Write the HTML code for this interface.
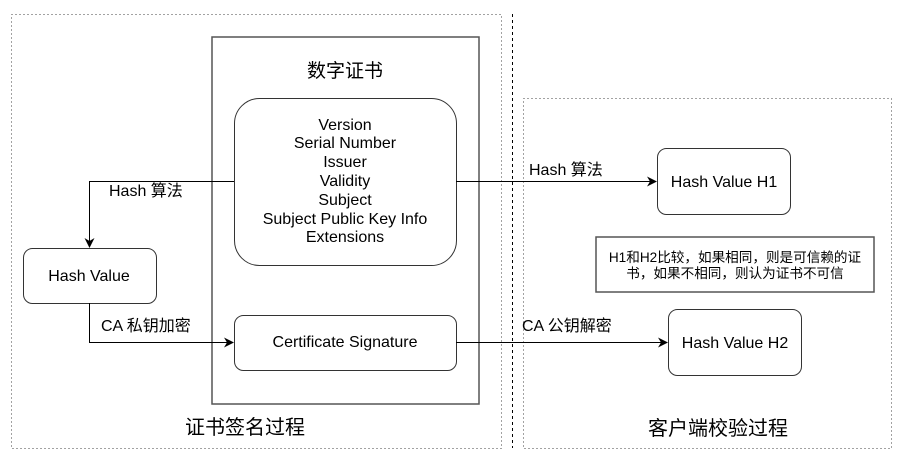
<!DOCTYPE html>
<html><head><meta charset="utf-8"><style>
body{margin:0;background:#fff}
svg text{font-family:"Liberation Sans","Noto Sans CJK SC",sans-serif;fill:#000}
</style></head><body>
<svg width="908" height="464" xmlns="http://www.w3.org/2000/svg">
<defs><marker id="a" markerWidth="10" markerHeight="10" refX="9" refY="5" orient="auto" markerUnits="userSpaceOnUse"><path d="M0,0 L10,5 L0,10 L3,5 Z" fill="#000"/></marker></defs>
<rect x="11.5" y="14.5" width="490" height="434" fill="none" stroke="#444" stroke-dasharray="1,3"/>
<line x1="512.5" y1="14" x2="512.5" y2="448" stroke="#000" stroke-dasharray="3,3"/>
<rect x="523.5" y="98.5" width="368" height="350" fill="none" stroke="#444" stroke-dasharray="1,3"/>
<rect x="212" y="37" width="267" height="367" fill="none" stroke="#555" stroke-width="1.5"/>
<text x="345" y="77" font-size="19" text-anchor="middle">数字证书</text>
<rect x="234.5" y="98.5" width="222" height="167" rx="25" fill="#fff" stroke="#333"/>
<g font-size="16" text-anchor="middle">
<text x="345" y="130">Version</text><text x="345" y="148">Serial Number</text><text x="345" y="167">Issuer</text><text x="345" y="186">Validity</text><text x="345" y="205">Subject</text><text x="345" y="224">Subject Public Key Info</text><text x="345" y="242">Extensions</text>
</g>
<rect x="23.5" y="248.5" width="133" height="55" rx="9" fill="#fff" stroke="#333"/>
<text x="89" y="281" font-size="16" text-anchor="middle">Hash Value</text>
<rect x="234.5" y="315.5" width="222" height="55" rx="9" fill="#fff" stroke="#333"/>
<text x="345" y="347" font-size="16" text-anchor="middle">Certificate Signature</text>
<polyline points="234,181.5 89.5,181.5 89.5,247" fill="none" stroke="#000" marker-end="url(#a)"/>
<text x="109" y="196" font-size="16">Hash 算法</text>
<polyline points="89.5,303 89.5,342.5 233,342.5" fill="none" stroke="#000" marker-end="url(#a)"/>
<text x="101" y="331" font-size="16">CA 私钥加密</text>
<line x1="456" y1="181.5" x2="656" y2="181.5" stroke="#000" marker-end="url(#a)"/>
<text x="529" y="175" font-size="16">Hash  算法</text>
<line x1="456" y1="342.5" x2="667" y2="342.5" stroke="#000" marker-end="url(#a)"/>
<text x="522" y="331" font-size="16">CA  公钥解密</text>
<rect x="657.5" y="148.5" width="133" height="66" rx="9" fill="#fff" stroke="#333"/>
<text x="724" y="187" font-size="16" text-anchor="middle">Hash Value  H1</text>
<rect x="596" y="237" width="278" height="55" fill="#fff" stroke="#555" stroke-width="1.5"/>
<text x="735" y="262" font-size="13.6" text-anchor="middle">H1和H2比较，如果相同，则是可信赖的证</text>
<text x="735" y="278" font-size="13.6" text-anchor="middle">书，如果不相同，则认为证书不可信</text>
<rect x="668.5" y="309.5" width="133" height="66" rx="9" fill="#fff" stroke="#333"/>
<text x="735" y="348" font-size="16" text-anchor="middle">Hash Value H2</text>
<text x="245" y="434" font-size="20" text-anchor="middle">证书签名过程</text>
<text x="718" y="435" font-size="20" text-anchor="middle">客户端校验过程</text>
</svg>
</body></html>
